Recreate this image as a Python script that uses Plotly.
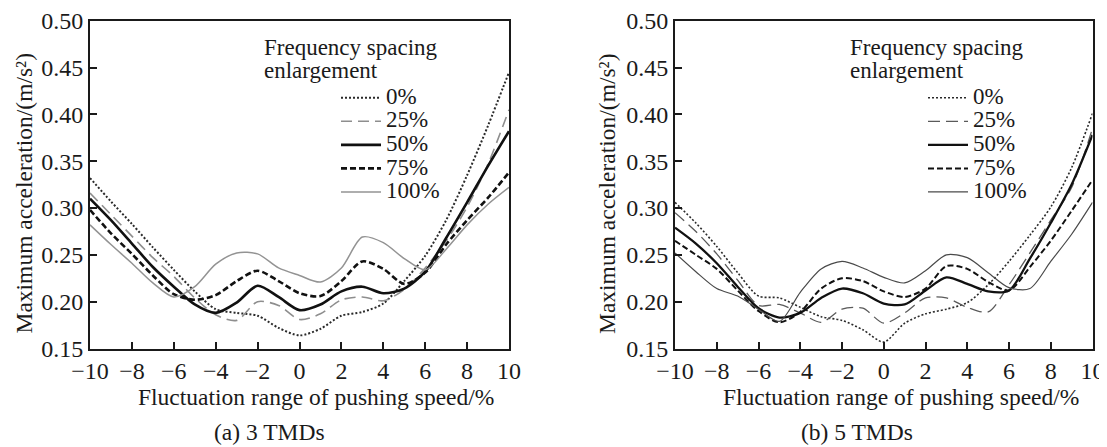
import plotly.graph_objects as go

# ---------------- data ----------------
x_speed = [-10, -9, -8, -7, -6, -5, -4, -3, -2, -1, 0, 1, 2, 3, 4, 5, 6, 7, 8, 9, 10]
x_ticks = [-10, -8, -6, -4, -2, 0, 2, 4, 6, 8, 10]
y_ticks = [0.15, 0.20, 0.25, 0.30, 0.35, 0.40, 0.45, 0.50]
series_names = ["0%", "25%", "50%", "75%", "100%"]

# (a) 3 TMDs
a3_0 = [0.332, 0.307, 0.283, 0.258, 0.234, 0.211, 0.192, 0.188, 0.185, 0.172, 0.164, 0.171, 0.185, 0.189, 0.198, 0.222, 0.249, 0.287, 0.335, 0.388, 0.445]
a3_25 = [0.316, 0.293, 0.270, 0.247, 0.227, 0.204, 0.186, 0.180, 0.200, 0.196, 0.181, 0.187, 0.202, 0.205, 0.201, 0.213, 0.236, 0.265, 0.301, 0.347, 0.405]
a3_50 = [0.310, 0.287, 0.262, 0.237, 0.216, 0.197, 0.188, 0.199, 0.217, 0.205, 0.191, 0.197, 0.211, 0.216, 0.209, 0.214, 0.232, 0.268, 0.306, 0.345, 0.382]
a3_75 = [0.298, 0.273, 0.251, 0.228, 0.208, 0.202, 0.207, 0.222, 0.233, 0.222, 0.209, 0.206, 0.222, 0.243, 0.235, 0.219, 0.231, 0.261, 0.287, 0.311, 0.338]
a3_100 = [0.282, 0.261, 0.241, 0.220, 0.205, 0.216, 0.240, 0.252, 0.251, 0.236, 0.228, 0.221, 0.236, 0.269, 0.263, 0.246, 0.234, 0.256, 0.282, 0.304, 0.322]

# (b) 5 TMDs
b5_0 = [0.306, 0.284, 0.259, 0.231, 0.206, 0.204, 0.194, 0.184, 0.180, 0.170, 0.157, 0.177, 0.187, 0.192, 0.199, 0.218, 0.243, 0.271, 0.301, 0.343, 0.401]
b5_25 = [0.295, 0.275, 0.251, 0.223, 0.196, 0.197, 0.188, 0.178, 0.192, 0.193, 0.177, 0.188, 0.204, 0.204, 0.194, 0.189, 0.218, 0.252, 0.287, 0.322, 0.385]
b5_50 = [0.279, 0.262, 0.241, 0.216, 0.193, 0.183, 0.188, 0.204, 0.214, 0.209, 0.198, 0.197, 0.212, 0.226, 0.219, 0.211, 0.212, 0.246, 0.284, 0.325, 0.378]
b5_75 = [0.265, 0.250, 0.235, 0.212, 0.190, 0.178, 0.189, 0.214, 0.225, 0.222, 0.211, 0.205, 0.214, 0.238, 0.235, 0.221, 0.212, 0.237, 0.265, 0.297, 0.330]
b5_100 = [0.252, 0.232, 0.214, 0.206, 0.192, 0.179, 0.210, 0.235, 0.243, 0.236, 0.226, 0.220, 0.233, 0.250, 0.247, 0.231, 0.215, 0.214, 0.243, 0.272, 0.306]

left_series = [a3_0, a3_25, a3_50, a3_75, a3_100]
right_series = [b5_0, b5_25, b5_50, b5_75, b5_100]

# ---------------- styles ----------------
FONT = "Liberation Serif"
INK = "#1a1a1a"
left_styles = [
    dict(color="#2a2a2a", width=2.0, dash="2px,2px"),
    dict(color="#8e8e8e", width=1.6, dash="11px,6px"),
    dict(color="#111111", width=2.6, dash="solid"),
    dict(color="#111111", width=2.6, dash="6px,3px"),
    dict(color="#939393", width=1.5, dash="solid"),
]
right_styles = [
    dict(color="#2a2a2a", width=1.6, dash="2px,2px"),
    dict(color="#5a5a5a", width=1.3, dash="12px,6px"),
    dict(color="#111111", width=2.3, dash="solid"),
    dict(color="#111111", width=2.0, dash="6px,3px"),
    dict(color="#4a4a4a", width=1.2, dash="solid"),
]

# the page body has an 8 px margin, so the figure starts at (8, 8) in the window
OFF = 8
W, H = 1107 - OFF, 447 - OFF
def px(x):
    return (x - OFF) / W
def py(y):
    return (H - (y - OFF)) / H

def big(text, size=23):
    return '<span style="font-size:%dpx">%s</span>' % (size, text)

fig = go.Figure()
for name, ys, st in zip(series_names, left_series, left_styles):
    fig.add_trace(go.Scatter(x=x_speed, y=ys, mode="lines", name=big(name),
                             line=dict(shape="spline", smoothing=0.8, **st),
                             xaxis="x", yaxis="y", legend="legend"))
for name, ys, st in zip(series_names, right_series, right_styles):
    fig.add_trace(go.Scatter(x=x_speed, y=ys, mode="lines", name=big(name),
                             line=dict(shape="spline", smoothing=0.8, **st),
                             xaxis="x2", yaxis="y2", legend="legend2"))

axis_common = dict(showgrid=False, zeroline=False, showline=True, linecolor=INK,
                   linewidth=2, mirror=True, ticks="inside", ticklen=7, tickwidth=2,
                   tickcolor=INK, automargin=False,
                   tickfont=dict(family=FONT, size=24, color=INK))
xaxis_common = dict(axis_common, range=[-10, 10], tickmode="array", tickvals=x_ticks,
                    ticktext=[("\u2212" + str(abs(v))) if v < 0 else str(v) for v in x_ticks])
yaxis_common = dict(axis_common, range=[0.15, 0.50], tickmode="array", tickvals=y_ticks,
                    ticktext=["%.2f" % v for v in y_ticks])

y_dom = [py(348.5), py(20.7)]
legend_common = dict(font=dict(family=FONT, size=15.8, color=INK), bgcolor="rgba(0,0,0,0)",
                     borderwidth=0, xanchor="left", yanchor="top", tracegroupgap=0,
                     itemwidth=40, traceorder="normal")

fig.update_layout(
    width=W, height=H, margin=dict(l=0, r=0, t=0, b=0, autoexpand=False),
    paper_bgcolor="white", plot_bgcolor="white",
    xaxis=dict(xaxis_common, domain=[px(90), px(509)], anchor="y"),
    yaxis=dict(yaxis_common, domain=y_dom, anchor="x"),
    xaxis2=dict(xaxis_common, domain=[px(675), px(1092.5)], anchor="y2"),
    yaxis2=dict(yaxis_common, domain=y_dom, anchor="x2"),
    legend=dict(legend_common, x=px(336), y=py(81)),
    legend2=dict(legend_common, x=px(923), y=py(81)),
    showlegend=True,
)

ann_font = dict(family=FONT, size=23.5, color=INK)
anns = [
    dict(text="Maximum acceleration/(m/s\u00b2)", x=px(23.5), y=py(194), textangle=-90),
    dict(text="Maximum acceleration/(m/s\u00b2)", x=px(607), y=py(194), textangle=-90),
    dict(text="Fluctuation range of pushing speed/%", x=px(316), y=py(397)),
    dict(text="Fluctuation range of pushing speed/%", x=px(901), y=py(397)),
    dict(text="(a) 3 TMDs", x=px(269), y=py(432)),
    dict(text="(b) 5 TMDs", x=px(857), y=py(432)),
]
for a in anns:
    fig.add_annotation(xref="paper", yref="paper", showarrow=False, xanchor="center",
                       yanchor="middle", font=ann_font, **a)
for xl in (263, 849):
    fig.add_annotation(text=big("Frequency spacing") + "<br>" + big("enlargement"),
                       xref="paper", yref="paper", x=px(xl), y=py(59),
                       xanchor="left", yanchor="middle", align="left", borderpad=0,
                       showarrow=False, font=dict(family=FONT, size=17.5, color=INK))

fig.write_html("out.html")
